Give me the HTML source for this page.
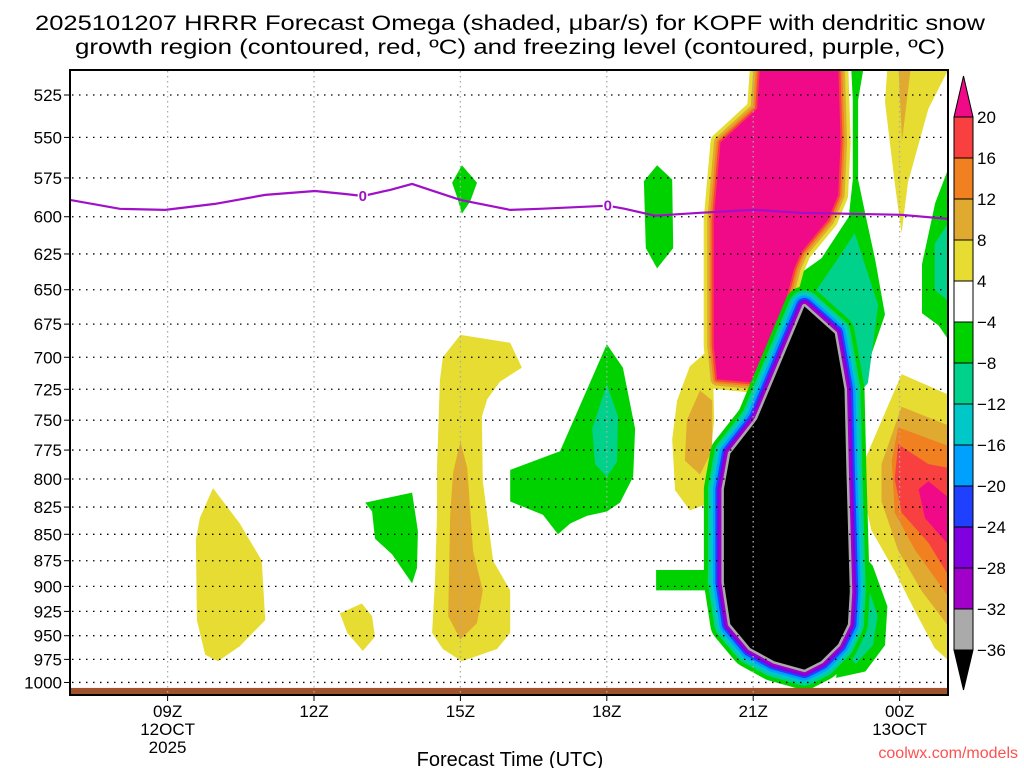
<!DOCTYPE html>
<html><head><meta charset="utf-8"><style>
html,body{margin:0;padding:0;background:#fff;}
svg{display:block;font-family:"Liberation Sans",sans-serif;}
</style></head><body>
<svg id="chart" width="1024" height="768" viewBox="0 0 1024 768">
<defs><clipPath id="plotclip"><rect x="70" y="70" width="878" height="624"/></clipPath></defs>
<g id="title">
<text x="510" y="30" font-size="21" text-anchor="middle" textLength="950" lengthAdjust="spacingAndGlyphs">2025101207 HRRR Forecast Omega (shaded, μbar/s) for KOPF with dendritic snow</text>
<text x="510" y="54" font-size="21" text-anchor="middle" textLength="870" lengthAdjust="spacingAndGlyphs">growth region (contoured, red, ºC) and freezing level (contoured, purple, ºC)</text>
</g>
<g id="shade" clip-path="url(#plotclip)"></g>
<g id="grid"></g>
<g id="fz" clip-path="url(#plotclip)"></g>
<g id="axes"></g>
<g id="cbar"></g>
<text x="510" y="766" font-size="20" text-anchor="middle">Forecast Time (UTC)</text>
<text x="1018" y="758" font-size="16" text-anchor="end" fill="#ff5050">coolwx.com/models</text>
</svg>
<script>
const pressureTicks=[525,550,575,600,625,650,675,700,725,750,775,800,825,850,875,900,925,950,975,1000];
const timeTicks=[9,12,15,18,21,24];
const timeLabels=[["09Z","12OCT","2025"],["12Z"],["15Z"],["18Z"],["21Z"],["00Z","13OCT"]];
const cbarLabels=["20","16","12","8","4","\u22124","\u22128","\u221212","\u221216","\u221220","\u221224","\u221228","\u221232","\u221236"];
const cbarColors=["#f00a88","#f84040","#f08020","#e0aa30","#e6dc32","#ffffff","#00d200","#00d28c","#00c8c8","#00a0ff","#2040ff","#8000e0","#a000c8","#aaaaaa","#000000"];
const freezeH=[7.0,8.02,8.95,9.97,11.0,12.02,12.64,13.0,13.56,14.01,14.38,15.0,16.02,16.63,18.02,18.37,18.99,19.91,21.02,21.96,24.03,25.0];
const freezeP=[589,594.8,595.5,591.6,585.8,583.3,585.2,586.5,582.6,578.8,582.6,589,595.5,594.8,592.8,594.8,599.3,597.4,595.5,597.4,598.7,601.4];
const freezeLabelH=[13.0,18.02];
const yellow10Z=[[9.93,808],[10.48,840],[10.93,875],[11.0,934],[10.48,961],[10.03,977],[9.77,970],[9.6,934],[9.58,855],[9.66,835]];
const yellow13Z=[[12.53,927],[12.98,917],[13.19,930],[13.25,951],[13.0,966],[12.68,947]];
const green13Z=[[13.05,821],[14.01,812],[14.13,847],[14.11,882],[14.01,897],[13.6,869],[13.25,854],[13.19,829]];
const yellow15Z=[[15.0,683],[16.02,689],[16.26,708],[15.81,719],[15.55,733],[15.44,747],[15.46,802],[15.67,875],[16.02,904],[16.02,947],[15.75,964],[15.03,977],[14.64,964],[14.42,947],[14.48,895],[14.52,832],[14.52,790],[14.58,718],[14.64,700]];
const orange15Z=[[15.0,768],[15.14,790],[15.26,866],[15.46,904],[15.34,937],[15.0,954],[14.75,930],[14.79,832],[14.85,794]];
const green15Z=[[15.03,567],[15.34,578],[15.2,590],[15.03,598],[14.93,587],[14.83,578]];
const green18Z=[[16.02,792],[17.04,776],[18.0,690],[18.33,708],[18.58,757],[18.54,798],[18.27,821],[18.0,829],[17.59,833],[17.25,840],[17.0,850],[16.69,832],[16.02,820]];
const teal18Z=[[18.0,721],[18.23,747],[18.21,785],[18.0,798],[17.76,787],[17.7,757]];
const green19Z=[[19.03,567],[19.34,576],[19.36,621],[19.03,635],[18.8,621],[18.76,577]];
const greenBar=[[19.01,884],[20.6,884],[20.6,904],[19.01,904]];
const yellowW=[[20.16,692],[19.7,707],[19.44,734],[19.34,766],[19.4,810],[19.7,828],[20.01,823],[20.2,750]];
const orangeW=[[19.91,726],[19.64,750],[19.6,784],[19.91,796],[20.16,775],[20.16,734]];
const pinkMain=[[21.15,505],[22.74,505],[22.79,553],[22.74,586],[22.53,602],[22.25,613],[21.98,624],[21.84,635],[21.7,653],[21.5,675],[21.08,720],[20.26,717],[20.19,691],[20.19,602],[20.33,553],[21.08,533]];
const greenStrip=[[23.0,505],[23.29,505],[23.15,528],[23.15,576],[23.31,600],[23.5,629],[23.7,668],[23.0,745],[22.0,700],[21.9,640],[22.4,628],[22.96,600],[23.04,576],[23.04,528]];
const tealStrip=[[23.08,611],[23.56,661],[23.35,720],[23.0,736],[22.6,700],[22.3,650],[22.7,630]];
const greenLow=[[22.9,850],[23.45,880],[23.75,920],[23.7,960],[23.3,988],[22.7,995],[22.8,900]];
const tealLow=[[22.9,870],[23.35,900],[23.55,930],[23.45,960],[23.1,980],[22.8,960]];
const blackBlob=[[22.05,662],[22.67,682],[22.87,725],[22.91,793],[22.98,905],[22.94,938],[22.74,959],[22.39,977],[22.05,986],[21.43,977],[20.94,963],[20.53,938],[20.4,896],[20.4,809],[20.53,778],[21.01,753],[21.08,749]];
const yellowNE=[[23.76,505],[25.1,505],[24.59,533],[24.17,578],[24.04,611],[23.9,578],[23.7,529]];
const orangeNE=[[23.97,505],[24.25,505],[24.05,552]];
const greenE=[[25.1,561],[24.73,591],[24.46,632],[24.46,667],[24.8,676],[25.1,692]];
const tealE=[[25.1,599],[24.72,618],[24.72,650],[25.1,661]];
const yellowSE=[[24.04,713],[25.1,731],[25.1,981],[24.72,963],[24.32,925],[23.9,885],[23.42,846],[23.22,806],[23.28,784]];
const lorangeSE=[[24.04,739],[25.1,756],[25.1,947],[24.46,905],[23.97,865],[23.63,820],[23.63,787]];
const orangeSE=[[23.97,756],[25.1,773],[25.1,917],[24.32,865],[23.9,830],[23.84,784]];
const redSE=[[23.97,770],[24.59,787],[25.1,791],[25.1,897],[24.59,858],[24.04,830],[23.9,800]];
const pinkSE=[[24.59,802],[25.1,820],[25.1,865],[24.52,835],[24.39,809]];

const NS="http://www.w3.org/2000/svg";
function X(h){return 70+(h-7)*48.8;}
function Y(p){return 95+Math.log(p/525)*911.7;}
function mk(tag,parent,attrs){const e=document.createElementNS(NS,tag);for(const k in attrs)e.setAttribute(k,attrs[k]);parent.appendChild(e);return e;}
function pts(a){return a.map(q=>X(q[0]).toFixed(1)+","+Y(q[1]).toFixed(1)).join(" ");}
const shade=document.getElementById('shade');
function poly(arr,fill,name,stroke,sw){
  const e=mk('polygon',shade,{points:pts(arr),fill:fill,stroke:stroke||'none','stroke-width':sw||0,'stroke-linejoin':'round'});
  
  
  return e;
}
const Cy="#e6dc32",Clo="#e0aa30",Co="#f08020",Cr="#f84040",Cp="#f00a88",Cg="#00d200",Ct="#00d28c";
poly(yellow10Z,Cy,'region-yellow-10z');
poly(yellow13Z,Cy,'region-yellow-13z');
poly(green13Z,Cg,'region-green-13z');
poly(yellow15Z,Cy,'region-yellow-15z');
poly(orange15Z,Clo,'region-orange-15z');
poly(green15Z,Cg,'region-green-15z-top');
poly(green18Z,Cg,'region-green-18z');
poly(teal18Z,Ct,'region-teal-18z');
poly(green19Z,Cg,'region-green-19z');
poly(yellowW,Cy,'region-yellow-20z');
poly(orangeW,Clo,'region-orange-20z');
poly(yellowNE,Cy,'region-yellow-00z-top');
poly(orangeNE,Clo,'region-orange-00z-top');
poly(greenE,Cg,'region-green-east');
poly(tealE,Ct,'region-teal-east');
poly(yellowSE,Cy,'region-yellow-southeast');
poly(lorangeSE,Clo,'region-lorange-southeast');
poly(orangeSE,Co,'region-orange-southeast');
poly(redSE,Cr,'region-red-southeast');
poly(pinkSE,Cp,'region-pink-southeast');
poly(greenStrip,Cg,'region-green-strip');
poly(tealStrip,Ct,'region-teal-strip');
poly(greenLow,Cg,'region-green-low');
poly(tealLow,Ct,'region-teal-low');
poly(pinkMain,Cy,'pink-band-yellow',Cy,20);
poly(pinkMain,Clo,'pink-band-lorange',Clo,13);
poly(pinkMain,Co,'pink-band-orange',Co,8);
poly(pinkMain,Cr,'pink-band-red',Cr,4);
poly(pinkMain,Cp,'region-pink-main');
poly(greenBar,Cg,'region-green-bar');
const rings=[[Cg,40],[Ct,32],["#00c8c8",27],["#00a0ff",22],["#2040ff",17],["#8000e0",13],["#a000c8",9],["#aaaaaa",5]];
rings.forEach((r,i)=>{poly(blackBlob,r[0],'blob-ring-'+i,r[0],r[1]);});
poly(blackBlob,"#000",'region-black-core');
const g=mk('rect',shade,{x:70,y:Y(1006),width:878,height:20,fill:'#a0522d'});



const grid=document.getElementById('grid');
pressureTicks.forEach(p=>{
  const l=mk('line',grid,{x1:72,x2:946,y1:Y(p),y2:Y(p),stroke:'#000','stroke-width':1.3,'stroke-dasharray':'1.5 5.5'});
  
  
});
timeTicks.forEach(h=>{
  const l=mk('line',grid,{x1:X(h),x2:X(h),y1:71,y2:694,stroke:'#aaa','stroke-width':1.3,'stroke-dasharray':'1.5 3.5'});
  
  
});
const fz=document.getElementById('fz');
const fl=mk('polyline',fz,{points:freezeH.map((h,i)=>X(h).toFixed(1)+","+Y(freezeP[i]).toFixed(1)).join(" "),fill:'none',stroke:'#a010c8','stroke-width':2.2});


freezeLabelH.forEach(h=>{
  let i=freezeH.indexOf(h);
  const t=mk('text',fz,{x:X(h),y:Y(freezeP[i])+5,'font-size':15,'font-weight':'bold','text-anchor':'middle',fill:'#a010c8',stroke:'#fff','stroke-width':3,'paint-order':'stroke'});
  t.textContent='0';
  
  
});
const ax=document.getElementById('axes');
const fr=mk('rect',ax,{x:70,y:70,width:878,height:625,fill:'none',stroke:'#000','stroke-width':2});


pressureTicks.forEach(p=>{
  const t=mk('text',ax,{x:62,y:Y(p)+6,'font-size':17,'text-anchor':'end'});
  t.textContent=p;
  
  
  mk('line',ax,{x1:64,x2:70,y1:Y(p),y2:Y(p),stroke:'#000','stroke-width':1});
});
timeTicks.forEach((h,i)=>{
  mk('line',ax,{x1:X(h),x2:X(h),y1:695,y2:701,stroke:'#000','stroke-width':1});
  timeLabels[i].forEach((s,j)=>{
    const t=mk('text',ax,{x:X(h),y:717+j*18,'font-size':17,'text-anchor':'middle'});
    t.textContent=s;
    
    
  });
});
const cb=document.getElementById('cbar');
const cx=954,cw=19,top0=117,step=(650-117)/13;
const tri=mk('polygon',cb,{points:`${cx},${top0} ${cx+cw},${top0} ${cx+cw/2},76`,fill:cbarColors[0],stroke:'#000','stroke-width':1});


for(let i=1;i<cbarColors.length-1;i++){
  const r=mk('rect',cb,{x:cx,y:top0+(i-1)*step,width:cw,height:step,fill:cbarColors[i],stroke:'#000','stroke-width':1});
  
  
}
const tri2=mk('polygon',cb,{points:`${cx},650 ${cx+cw},650 ${cx+cw/2},690`,fill:'#000',stroke:'#000','stroke-width':1});


cbarLabels.forEach((s,i)=>{
  const t=mk('text',cb,{x:977,y:top0+i*step+6,'font-size':17});
  t.textContent=s;
  
  
});
</script>
</body></html>
